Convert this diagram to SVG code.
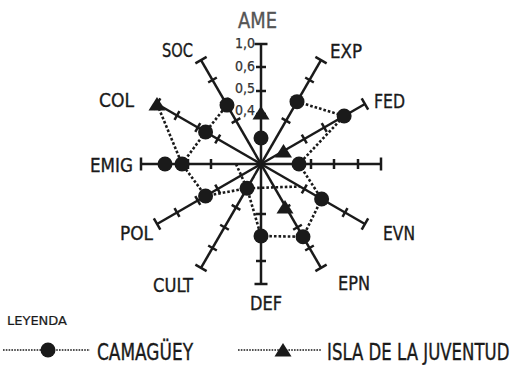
<svg xmlns="http://www.w3.org/2000/svg" xmlns:xlink="http://www.w3.org/1999/xlink" width="515" height="365" viewBox="0 0 515 365">
<style>
.lbl{font-family:"Liberation Sans Narrow","DejaVu Sans Condensed","Liberation Sans",sans-serif;font-size:20px;fill:#1a1a1a;stroke:#1a1a1a;stroke-width:0.35}
.ame{font-size:22px;fill:#555;stroke:#555}
.sc{font-family:"Liberation Sans Narrow","DejaVu Sans Condensed","Liberation Sans",sans-serif;font-size:14px;fill:#333;text-anchor:end;stroke:#333;stroke-width:0.25}
.leg{font-family:"Liberation Sans Narrow","DejaVu Sans Condensed","Liberation Sans",sans-serif;font-size:23px;fill:#1a1a1a;stroke:#1a1a1a;stroke-width:0.35}
.axis{stroke:#1a1a1a;stroke-width:2.5;fill:none}
.dot{stroke:#1a1a1a;stroke-width:2.6;stroke-dasharray:2.6 2;fill:none}
.ldot{stroke:#1a1a1a;stroke-width:1.6;stroke-dasharray:1.6 1.2;fill:none}
.mk{fill:#1a1a1a}
</style>
<defs>
<g id="ax" class="axis">
<line x1="0" y1="0" x2="120" y2="0"/>
<line x1="50" y1="-5" x2="50" y2="5"/>
<line x1="73" y1="-5" x2="73" y2="5"/>
<line x1="97" y1="-5" x2="97" y2="5"/>
<line x1="120" y1="-6.5" x2="120" y2="6.5"/>
</g>
<circle id="cir" r="7.5"/>
<path id="tri" d="M0,-8 L8.5,5.5 L-8.5,5.5 Z"/>
</defs>
<g id="axes">
<use xlink:href="#ax" transform="translate(261,164) rotate(-90)"/>
<use xlink:href="#ax" transform="translate(261,164) rotate(-60)"/>
<use xlink:href="#ax" transform="translate(261,164) rotate(-30)"/>
<use xlink:href="#ax" transform="translate(261,164) rotate(0)"/>
<use xlink:href="#ax" transform="translate(261,164) rotate(30)"/>
<use xlink:href="#ax" transform="translate(261,164) rotate(60)"/>
<use xlink:href="#ax" transform="translate(261,164) rotate(90)"/>
<use xlink:href="#ax" transform="translate(261,164) rotate(120)"/>
<use xlink:href="#ax" transform="translate(261,164) rotate(150)"/>
<use xlink:href="#ax" transform="translate(261,164) rotate(180)"/>
<use xlink:href="#ax" transform="translate(261,164) rotate(210)"/>
<use xlink:href="#ax" transform="translate(261,164) rotate(240)"/>
</g>
<g id="connectors">
<polyline class="dot" points="297,101.65 344.14,116 299,164 321.62,199 303,236.75 261,236 247,188.25 205.57,196 182,164 205.57,132 227,105.11"/>
<polyline class="dot" points="157.08,104 182,164"/>
<polyline class="dot" points="236,164 247,188.25 300,186.5"/>
</g>
<g id="camaguey" class="mk">
<use xlink:href="#cir" x="261" y="138"/>
<use xlink:href="#cir" x="297" y="101.65"/>
<use xlink:href="#cir" x="344.14" y="116"/>
<use xlink:href="#cir" x="299" y="164"/>
<use xlink:href="#cir" x="321.62" y="199"/>
<use xlink:href="#cir" x="303" y="236.75"/>
<use xlink:href="#cir" x="261" y="236"/>
<use xlink:href="#cir" x="247" y="188.25"/>
<use xlink:href="#cir" x="205.57" y="196"/>
<use xlink:href="#cir" x="182" y="164"/>
<use xlink:href="#cir" x="165" y="164"/>
<use xlink:href="#cir" x="205.57" y="132"/>
<use xlink:href="#cir" x="227" y="105.11"/>
</g>
<g id="isla" class="mk">
<use xlink:href="#tri" x="261" y="114"/>
<use xlink:href="#tri" x="283.5" y="152"/>
<use xlink:href="#tri" x="285" y="208"/>
<use xlink:href="#tri" x="157" y="105"/>
</g>
<g id="labels">
<text class="lbl ame" x="238" y="28" textLength="39" lengthAdjust="spacingAndGlyphs">AME</text>
<text class="lbl" x="330" y="58" textLength="32" lengthAdjust="spacingAndGlyphs">EXP</text>
<text class="lbl" x="374" y="108" textLength="31" lengthAdjust="spacingAndGlyphs">FED</text>
<text class="lbl" x="383" y="240" textLength="32" lengthAdjust="spacingAndGlyphs">EVN</text>
<text class="lbl" x="338" y="290" textLength="32" lengthAdjust="spacingAndGlyphs">EPN</text>
<text class="lbl" x="250" y="310" textLength="32" lengthAdjust="spacingAndGlyphs">DEF</text>
<text class="lbl" x="153" y="292" textLength="40" lengthAdjust="spacingAndGlyphs">CULT</text>
<text class="lbl" x="120" y="240" textLength="33" lengthAdjust="spacingAndGlyphs">POL</text>
<text class="lbl" x="90" y="172" textLength="43" lengthAdjust="spacingAndGlyphs">EMIG</text>
<text class="lbl" x="99" y="107" textLength="35" lengthAdjust="spacingAndGlyphs">COL</text>
<text class="lbl" x="162" y="57" textLength="31" lengthAdjust="spacingAndGlyphs">SOC</text>
<text class="sc" x="255" y="48" textLength="20" lengthAdjust="spacingAndGlyphs">1,0</text>
<text class="sc" x="255" y="71" textLength="20" lengthAdjust="spacingAndGlyphs">0,6</text>
<text class="sc" x="255" y="93" textLength="20" lengthAdjust="spacingAndGlyphs">0,5</text>
<text class="sc" x="255" y="115" textLength="20" lengthAdjust="spacingAndGlyphs">0,4</text>
</g>
<g id="legend">
<text class="leg" x="7" y="325" style="font-size:12px;stroke-width:0.2" textLength="60" lengthAdjust="spacingAndGlyphs">LEYENDA</text>
<line class="ldot" x1="3" y1="350" x2="90" y2="350"/>
<use class="mk" xlink:href="#cir" x="48" y="350"/>
<text class="leg" x="97" y="360" textLength="96" lengthAdjust="spacingAndGlyphs">CAMAGÜEY</text>
<line class="ldot" x1="238" y1="350" x2="322" y2="350"/>
<use class="mk" xlink:href="#tri" x="283" y="351"/>
<text class="leg" transform="translate(327,360) scale(0.8,1)" x="0" y="0" textLength="228" lengthAdjust="spacingAndGlyphs">ISLA DE LA JUVENTUD</text>
</g>
</svg>
